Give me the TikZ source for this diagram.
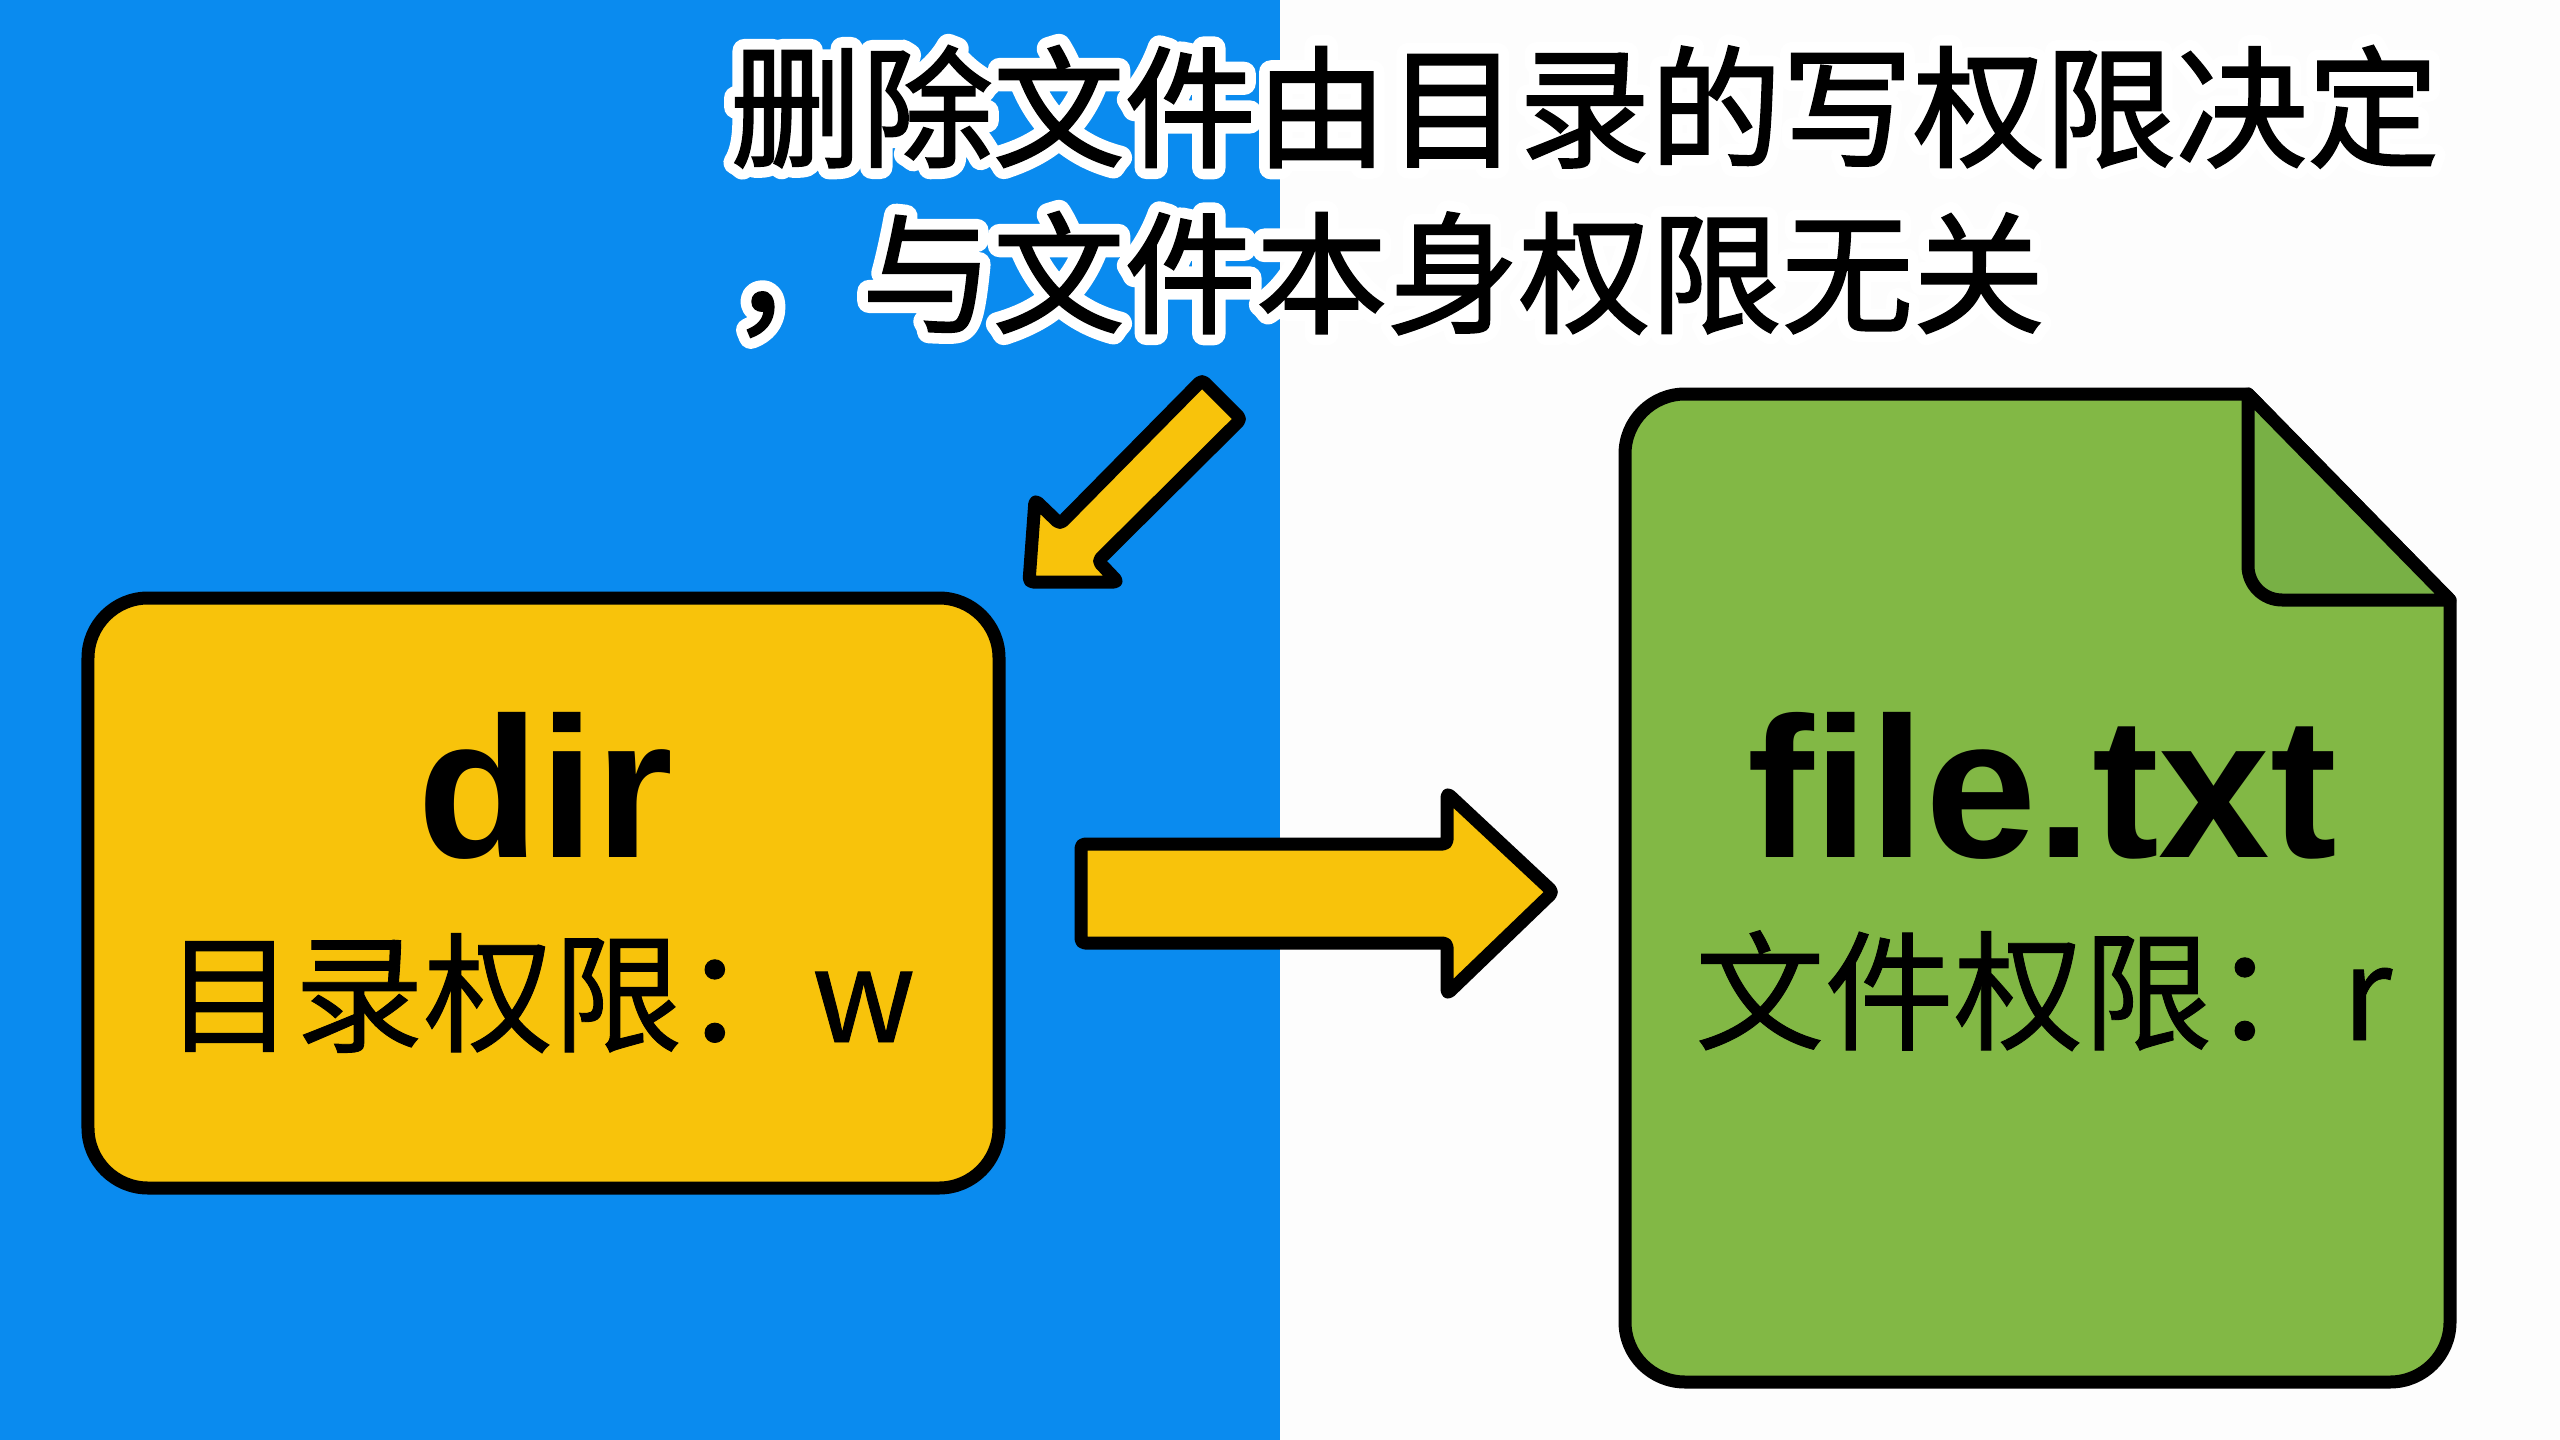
\documentclass[tikz,border=0pt]{standalone}
\usepackage{fontspec}
\setmainfont{Liberation Sans}
\newfontfamily\cjk[FakeBold=0.7]{Noto Sans CJK SC}
\newfontfamily\cjkmid[FakeBold=1.6]{Noto Sans CJK SC}
\newfontfamily\cjkhalo[FakeBold=18]{Noto Sans CJK SC}
\definecolor{skyblue}{HTML}{0A8BEF}
\definecolor{paper}{HTML}{FDFDFD}
\definecolor{amber}{HTML}{F8C30B}
\definecolor{leaf}{HTML}{82B845}
\definecolor{leafdark}{HTML}{78B045}
\tikzset{
 outline/.style={draw=black,line width=6.5mm,line join=round},
 bigname/.style={font=\fontsize{285}{300}\selectfont\bfseries,text=black,inner sep=0pt,anchor=base},
 permlab/.style={font=\cjk\fontsize{184}{200}\selectfont,text=black,inner sep=0pt,anchor=base west},
 titlelab/.style={font=\cjkmid\fontsize{187}{200}\selectfont,text=black,inner sep=0pt,anchor=base west},
 titlehalo/.style={font=\cjkhalo\fontsize{187}{200}\selectfont,text=white,inner sep=0pt,anchor=base west}
}
\begin{document}
\begin{tikzpicture}[x=.5mm,y=-.5mm]
\useasboundingbox (0,0) rectangle (2560,1440);
\fill[skyblue] (0,0) rectangle (1280,1440);
\fill[paper] (1280,0) rectangle (2560,1440);

\foreach \y/\nm/\lab in {157/one/删除文件由目录的写权限决定,323/two/，与文件本身权限无关} {
 \node[titlehalo] (halo\nm) at (730,\y) {\special{pdf:literal 1 j}\lab};
 \node[titlelab] (title\nm) at (730,\y) {\lab};
}

\draw[outline,fill=amber,rounded corners=2mm] (1029,582)--(1035,500)--(1060,524)--(1202,380)--(1241,419)--(1098,561)--(1118,582)--cycle;

\node[outline,fill=amber,rounded corners=30mm,minimum width=455.5mm,minimum height=295mm] (dirbox) at (543.5,893) {};
\node[bigname] (dirname) at (545,857) {dir};
\node[permlab] (dirperm) at (165,1042) {目录权限：w};

\draw[outline,fill=amber,rounded corners=2mm] (1081,844)--(1447,844)--(1447,793)--(1553,892)--(1447,994)--(1447,943)--(1081,943)--cycle;

\draw[outline,fill=leaf] (2248,394)[sharp corners]--(2450,600)--(2450,800)[rounded corners=30mm]--(2450,1382)--(1625,1382)--(1625,394)--(2000,394)[sharp corners]--cycle;
\draw[outline,fill=leafdark] (2248,394)--(2450,600)[rounded corners=17mm]--(2248,600)--(2248,500)[sharp corners]--cycle;
\node[bigname] (filename) at (2042,857) {file.txt};
\node[permlab] (fileperm) at (1695,1040) {文件权限：r};
\end{tikzpicture}
\end{document}
